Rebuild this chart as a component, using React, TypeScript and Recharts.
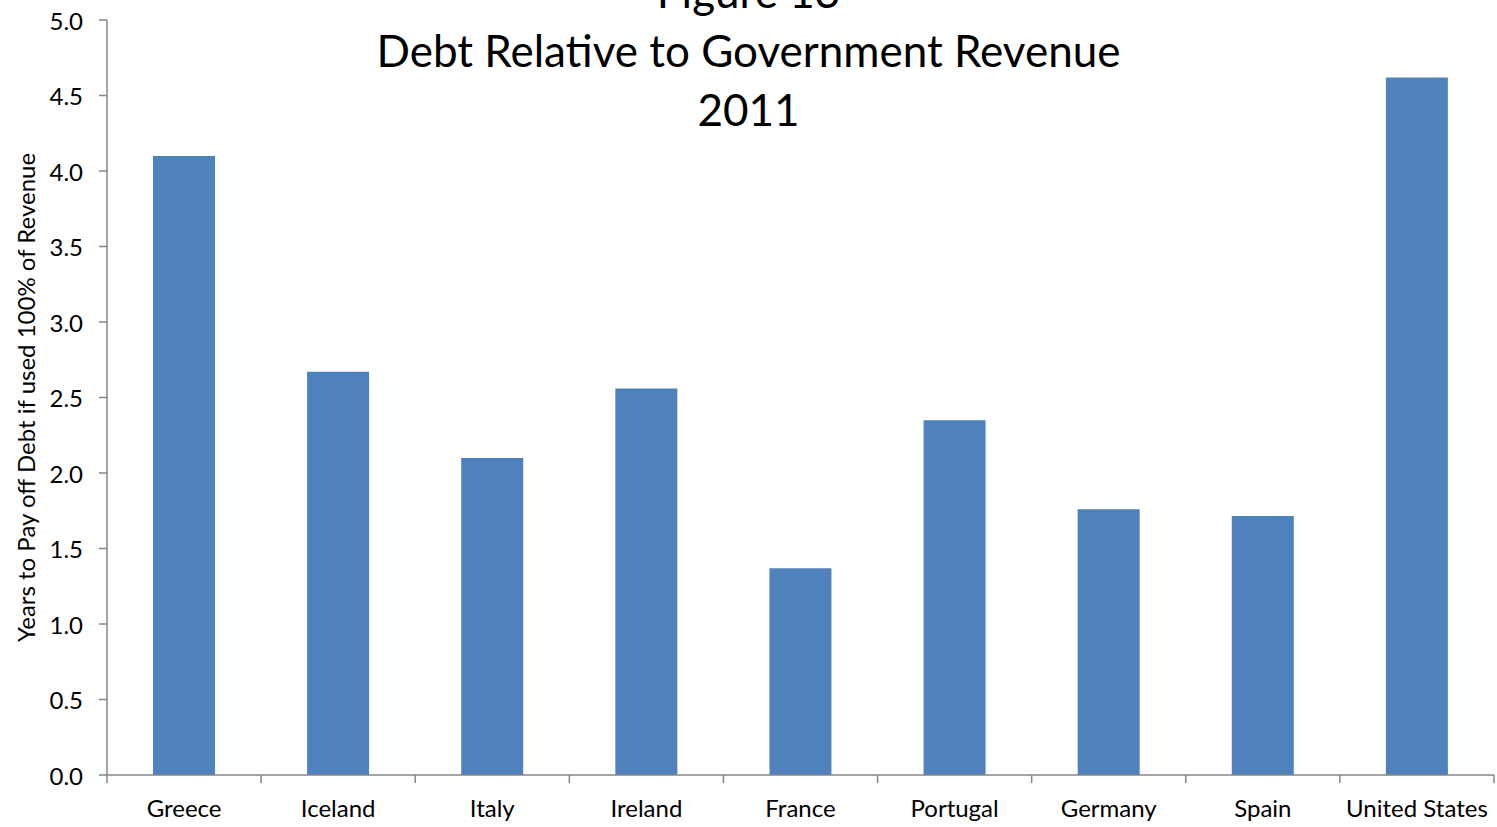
import React from "react";
import { BarChart, Bar, XAxis, YAxis } from "recharts";

const categories = ["Greece", "Iceland", "Italy", "Ireland", "France", "Portugal", "Germany", "Spain", "United States"];
const yearsToPay = [4.1, 2.67, 2.1, 2.56, 1.37, 2.35, 1.76, 1.715, 4.62];
const yTicks = [0, 0.5, 1, 1.5, 2, 2.5, 3, 3.5, 4, 4.5, 5];
const titleLines = ["Figure 13", "Debt Relative to Government Revenue", "2011"];
const yLabel = "Years to Pay off Debt if used 100% of Revenue";

const data = categories.map((c, i) => ({ country: c, value: yearsToPay[i] }));

const FONT = "Lato, 'Noto Sans', sans-serif";
const AXIS = "#868686";

const XTick = (props: any) => {
  const { x, y, payload, index, visibleTicksCount } = props;
  const half = payload?.offset ?? 77;
  const isLast = index === (visibleTicksCount ?? categories.length) - 1;
  return (
    <g>
      <line x1={x - half} x2={x - half} y1={y - 8} y2={y} stroke={AXIS} strokeWidth={1.5} />
      {isLast && <line x1={x + half} x2={x + half} y1={y - 8} y2={y} stroke={AXIS} strokeWidth={1.5} />}
      <text x={x} y={y + 34} textAnchor="middle" fontSize={24} fill="#000" fontFamily={FONT}>
        {payload.value}
      </text>
    </g>
  );
};

const YTick = (props: any) => {
  const { x, y, payload } = props;
  return (
    <text x={x - 14} y={y} textAnchor="end" dominantBaseline="central" fontSize={24} fill="#000" fontFamily={FONT}>
      {Number(payload.value).toFixed(1)}
    </text>
  );
};

const YLabel = (props: any) => {
  const vb = props.viewBox || {};
  const cy = vb.y + vb.height / 2;
  const cx = 25;
  return (
    <text x={cx} y={cy} transform={`rotate(-90 ${cx} ${cy})`} textAnchor="middle" dominantBaseline="central" fontSize={24} fill="#000" fontFamily={FONT}>
      {yLabel}
    </text>
  );
};

export default function App() {
  return (
    <div style={{ position: "absolute", left: 0, top: 0, width: 1497, height: 827, background: "#fff", overflow: "hidden" }}>
      <BarChart width={1497} height={827} data={data} margin={{ top: 20, right: 3, bottom: 0, left: 0 }}>
        <XAxis
          dataKey="country"
          height={52}
          axisLine={{ stroke: AXIS, strokeWidth: 1.5 }}
          tickLine={false}
          tick={<XTick />}
          interval={0}
        />
        <YAxis
          width={107}
          domain={[0, 5]}
          ticks={yTicks}
          interval={0}
          axisLine={{ stroke: AXIS, strokeWidth: 1.5 }}
          tickLine={{ stroke: AXIS, strokeWidth: 1.5 }}
          tickSize={8}
          tick={<YTick />}
          label={<YLabel />}
        />
        <Bar dataKey="value" fill="#4F81BD" barSize={62} isAnimationActive={false} />
      </BarChart>
      <div style={{ position: "absolute", left: 0, top: -38, width: 1497, textAlign: "center", fontFamily: FONT, fontSize: 44, lineHeight: "59px", color: "#000", pointerEvents: "none" }}>
        {titleLines.map((t) => (
          <div key={t}>{t}</div>
        ))}
      </div>
    </div>
  );
}
